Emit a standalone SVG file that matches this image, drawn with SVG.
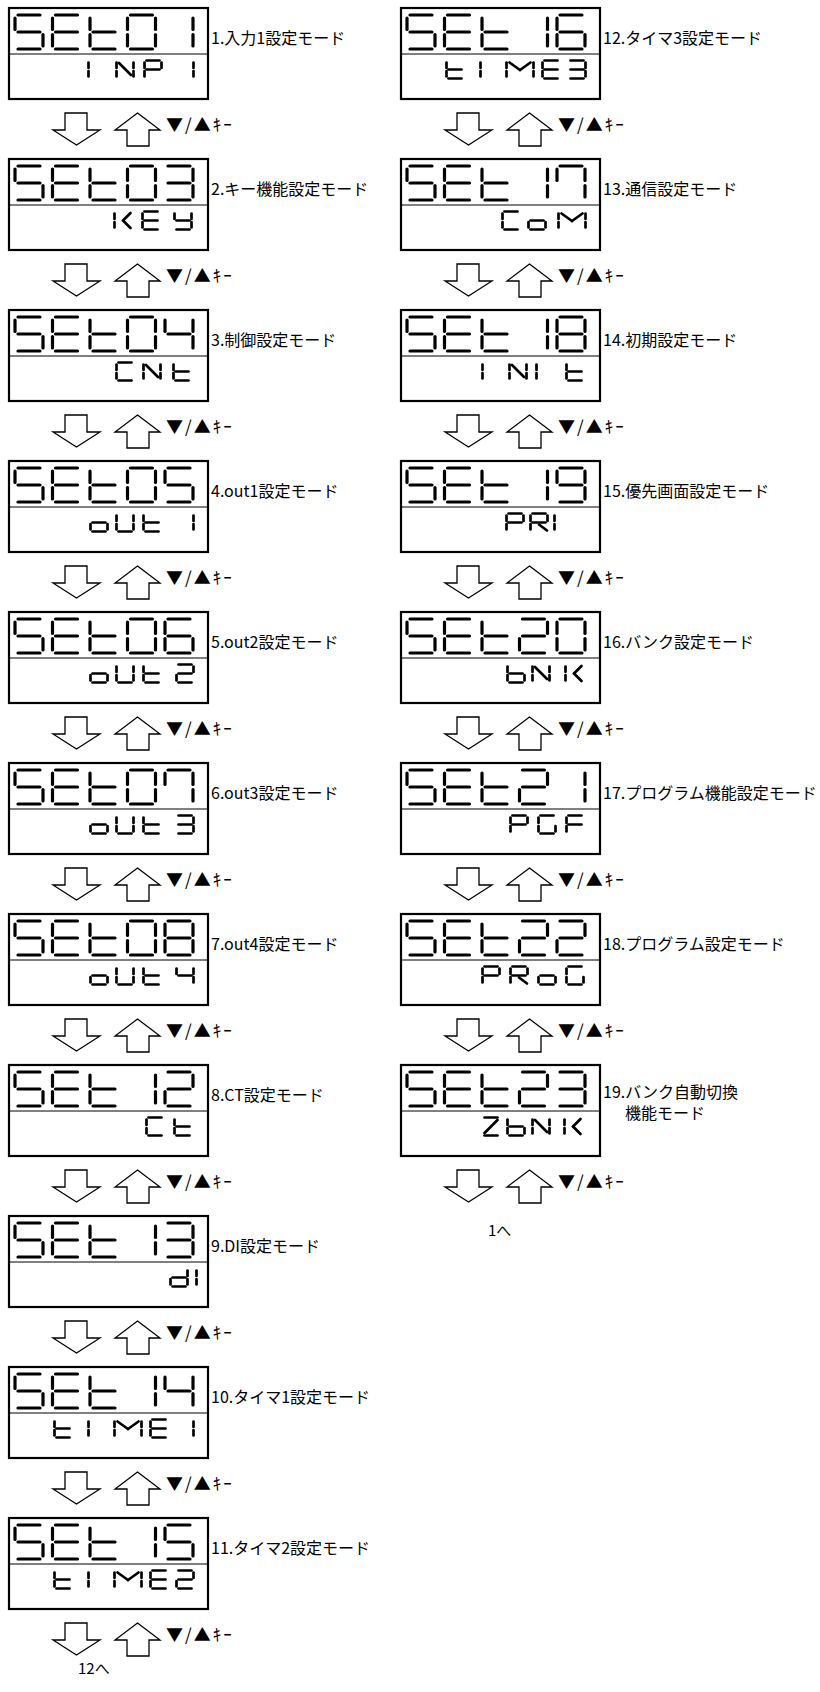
<svg xmlns="http://www.w3.org/2000/svg" width="820" height="1692" viewBox="0 0 820 1692">
<style>
.frame{fill:#fff;stroke:#000;stroke-width:2.2}
.div{stroke:#000;stroke-width:1}
.big{stroke:#000;stroke-width:3.2;stroke-linecap:round;fill:none}
.small{stroke:#000;stroke-width:2.7;stroke-linecap:round;fill:none}
.lbl{font-family:"Noto Sans CJK JP","Noto Sans CJK SC",sans-serif;font-size:16px;fill:#000}
.key{font-family:"Noto Sans CJK JP","Noto Sans CJK SC",sans-serif;font-size:17px;fill:#000;letter-spacing:2px}
.arr{fill:#fff;stroke:#000;stroke-width:1.3;stroke-linejoin:miter}
</style>
<defs>
<line id="BA" x1="5" y1="2" x2="27" y2="2"/>
<line id="BB" x1="30" y1="5" x2="30" y2="16.5"/>
<line id="BC" x1="30" y1="21.5" x2="30" y2="33"/>
<line id="BD" x1="5" y1="36" x2="27" y2="36"/>
<line id="BE" x1="2" y1="21.5" x2="2" y2="33"/>
<line id="BF" x1="2" y1="5" x2="2" y2="16.5"/>
<line id="BG" x1="5" y1="19" x2="27" y2="19"/>
<g id="Gs"><use href="#BA"/><use href="#BF"/><use href="#BG"/><use href="#BC"/><use href="#BD"/></g>
<g id="Ge"><use href="#BA"/><use href="#BF"/><use href="#BG"/><use href="#BE"/><use href="#BD"/></g>
<g id="Gt"><use href="#BF"/><use href="#BG"/><use href="#BE"/><use href="#BD"/></g>
<g id="G0"><use href="#BA"/><use href="#BB"/><use href="#BC"/><use href="#BD"/><use href="#BE"/><use href="#BF"/></g>
<g id="G1"><use href="#BB"/><use href="#BC"/></g>
<g id="G2"><use href="#BA"/><use href="#BB"/><use href="#BG"/><use href="#BE"/><use href="#BD"/></g>
<g id="G3"><use href="#BA"/><use href="#BB"/><use href="#BG"/><use href="#BC"/><use href="#BD"/></g>
<g id="G4"><use href="#BF"/><use href="#BG"/><use href="#BB"/><use href="#BC"/></g>
<g id="G5"><use href="#Gs"/></g>
<g id="G6"><use href="#BA"/><use href="#BF"/><use href="#BG"/><use href="#BE"/><use href="#BD"/><use href="#BC"/></g>
<g id="G7"><use href="#BA"/><use href="#BF"/><use href="#BB"/><use href="#BC"/></g>
<g id="G8"><use href="#BA"/><use href="#BB"/><use href="#BC"/><use href="#BD"/><use href="#BE"/><use href="#BF"/><use href="#BG"/></g>
<g id="G9"><use href="#BA"/><use href="#BB"/><use href="#BC"/><use href="#BD"/><use href="#BF"/><use href="#BG"/></g>
<g id="SEt" class="big"><use href="#Gs" x="4" y="5"/><use href="#Ge" x="41.5" y="5"/><use href="#Gt" x="79" y="5"/></g>
<line id="sa" x1="3.5" y1="1.5" x2="16.5" y2="1.5"/>
<line id="sb" x1="18.5" y1="3.5" x2="18.5" y2="9"/>
<line id="sc" x1="18.5" y1="12" x2="18.5" y2="17.5"/>
<line id="sd" x1="3.5" y1="19.5" x2="16.5" y2="19.5"/>
<line id="se" x1="1.5" y1="12" x2="1.5" y2="17.5"/>
<line id="sf" x1="1.5" y1="3.5" x2="1.5" y2="9"/>
<line id="sg" x1="3.5" y1="10.5" x2="16.5" y2="10.5"/>
<g id="cI"><use href="#sf"/><use href="#se"/></g>
<g id="c1"><use href="#sb"/><use href="#sc"/></g>
<g id="c2"><use href="#sa"/><use href="#sb"/><use href="#sg"/><use href="#se"/><use href="#sd"/></g>
<g id="c3"><use href="#sa"/><use href="#sb"/><use href="#sg"/><use href="#sc"/><use href="#sd"/></g>
<g id="c4"><use href="#sf"/><use href="#sg"/><use href="#sb"/><use href="#sc"/></g>
<g id="cN"><use href="#sf"/><use href="#se"/><use href="#sb"/><use href="#sc"/><line x1="4" y1="4" x2="16" y2="16"/></g>
<g id="cP"><use href="#sa"/><use href="#sb"/><use href="#sf"/><use href="#sg"/><use href="#se"/></g>
<g id="cK"><use href="#sf"/><use href="#se"/><line x1="17.5" y1="3" x2="10" y2="10.5"/><line x1="10" y1="10.5" x2="17.5" y2="18"/></g>
<g id="cE"><use href="#sa"/><use href="#sf"/><use href="#sg"/><use href="#se"/><use href="#sd"/></g>
<g id="cY"><use href="#sf"/><use href="#sb"/><use href="#sg"/><use href="#sc"/><use href="#sd"/></g>
<g id="cC"><use href="#sa"/><use href="#sf"/><use href="#se"/><use href="#sd"/></g>
<g id="ct"><use href="#sf"/><use href="#se"/><use href="#sg"/><use href="#sd"/></g>
<g id="co"><use href="#sg"/><use href="#se"/><use href="#sc"/><use href="#sd"/></g>
<g id="cU"><use href="#sf"/><use href="#se"/><use href="#sd"/><use href="#sc"/><use href="#sb"/></g>
<g id="cd"><use href="#sb"/><use href="#sc"/><use href="#sd"/><use href="#se"/><use href="#sg"/></g>
<g id="cb"><use href="#sf"/><use href="#se"/><use href="#sd"/><use href="#sc"/><use href="#sg"/></g>
<g id="cR"><use href="#sa"/><use href="#sb"/><use href="#sf"/><use href="#sg"/><use href="#se"/><line x1="10" y1="12.5" x2="18" y2="18.5"/></g>
<g id="cZ"><use href="#sa"/><use href="#sd"/><line x1="16.5" y1="4" x2="3.5" y2="17"/></g>
<g id="cG"><use href="#sa"/><use href="#sf"/><use href="#se"/><use href="#sd"/><use href="#sc"/></g>
<g id="cF"><use href="#sa"/><use href="#sf"/><use href="#sg"/><use href="#se"/></g>
<g id="cM"><line x1="1.5" y1="3.5" x2="1.5" y2="9"/><line x1="1.5" y1="12" x2="1.5" y2="17.5"/><line x1="28.5" y1="3.5" x2="28.5" y2="9"/><line x1="28.5" y1="12" x2="28.5" y2="17.5"/><line x1="4.5" y1="3.5" x2="15" y2="11"/><line x1="25.5" y1="3.5" x2="15" y2="11"/></g>
<g id="frame"><rect class="frame" x="0" y="0" width="199" height="91"/><line class="div" x1="0" y1="46" x2="199" y2="46"/><use href="#SEt"/></g>
<g id="arrowpair"><polygon class="arr" points="56,0 78,0 78,17 91,17 67.5,32 44,17 56,17"/><polygon class="arr" points="128.5,0 151,17 140,17 140,33 118,33 118,17 106,17"/></g>
</defs>

<g id="node-01" transform="translate(9,8)"><use href="#frame"/><g class="big"><use href="#G0" x="116.5" y="5"/><use href="#G1" x="154" y="5"/></g><g class="small" transform="translate(0,51)"><use href="#cI" x="78"/><use href="#cN" x="106"/><use href="#cP" x="134"/><use href="#c1" x="166"/></g><text class="lbl" x="202" y="36">1.入力1設定モード</text></g>
<g id="node-02" transform="translate(9,159)"><use href="#frame"/><g class="big"><use href="#G0" x="116.5" y="5"/><use href="#G3" x="154" y="5"/></g><g class="small" transform="translate(0,51)"><use href="#cK" x="104"/><use href="#cE" x="132"/><use href="#cY" x="164"/></g><text class="lbl" x="202" y="36">2.キー機能設定モード</text></g>
<g id="node-03" transform="translate(9,310)"><use href="#frame"/><g class="big"><use href="#G0" x="116.5" y="5"/><use href="#G4" x="154" y="5"/></g><g class="small" transform="translate(0,51)"><use href="#cC" x="106"/><use href="#cN" x="133"/><use href="#ct" x="163"/></g><text class="lbl" x="202" y="36">3.制御設定モード</text></g>
<g id="node-04" transform="translate(9,461)"><use href="#frame"/><g class="big"><use href="#G0" x="116.5" y="5"/><use href="#G5" x="154" y="5"/></g><g class="small" transform="translate(0,51)"><use href="#co" x="80"/><use href="#cU" x="106"/><use href="#ct" x="133"/><use href="#c1" x="166"/></g><text class="lbl" x="202" y="36">4.out1設定モード</text></g>
<g id="node-05" transform="translate(9,612)"><use href="#frame"/><g class="big"><use href="#G0" x="116.5" y="5"/><use href="#G6" x="154" y="5"/></g><g class="small" transform="translate(0,51)"><use href="#co" x="80"/><use href="#cU" x="106"/><use href="#ct" x="133"/><use href="#c2" x="166"/></g><text class="lbl" x="202" y="36">5.out2設定モード</text></g>
<g id="node-06" transform="translate(9,763)"><use href="#frame"/><g class="big"><use href="#G0" x="116.5" y="5"/><use href="#G7" x="154" y="5"/></g><g class="small" transform="translate(0,51)"><use href="#co" x="80"/><use href="#cU" x="106"/><use href="#ct" x="133"/><use href="#c3" x="166"/></g><text class="lbl" x="202" y="36">6.out3設定モード</text></g>
<g id="node-07" transform="translate(9,914)"><use href="#frame"/><g class="big"><use href="#G0" x="116.5" y="5"/><use href="#G8" x="154" y="5"/></g><g class="small" transform="translate(0,51)"><use href="#co" x="80"/><use href="#cU" x="106"/><use href="#ct" x="133"/><use href="#c4" x="166"/></g><text class="lbl" x="202" y="36">7.out4設定モード</text></g>
<g id="node-08" transform="translate(9,1065)"><use href="#frame"/><g class="big"><use href="#G1" x="116.5" y="5"/><use href="#G2" x="154" y="5"/></g><g class="small" transform="translate(0,51)"><use href="#cC" x="136"/><use href="#ct" x="164"/></g><text class="lbl" x="202" y="36">8.CT設定モード</text></g>
<g id="node-09" transform="translate(9,1216)"><use href="#frame"/><g class="big"><use href="#G1" x="116.5" y="5"/><use href="#G3" x="154" y="5"/></g><g class="small" transform="translate(0,51)"><use href="#cd" x="160"/><use href="#cI" x="186"/></g><text class="lbl" x="202" y="36">9.DI設定モード</text></g>
<g id="node-10" transform="translate(9,1367)"><use href="#frame"/><g class="big"><use href="#G1" x="116.5" y="5"/><use href="#G4" x="154" y="5"/></g><g class="small" transform="translate(0,51)"><use href="#ct" x="44"/><use href="#cI" x="78"/><use href="#cM" x="104"/><use href="#cE" x="140"/><use href="#c1" x="166"/></g><text class="lbl" x="202" y="36">10.タイマ1設定モード</text></g>
<g id="node-11" transform="translate(9,1518)"><use href="#frame"/><g class="big"><use href="#G1" x="116.5" y="5"/><use href="#G5" x="154" y="5"/></g><g class="small" transform="translate(0,51)"><use href="#ct" x="44"/><use href="#cI" x="78"/><use href="#cM" x="104"/><use href="#cE" x="140"/><use href="#c2" x="166"/></g><text class="lbl" x="202" y="36">11.タイマ2設定モード</text></g>

<g id="node-12" transform="translate(401,8)"><use href="#frame"/><g class="big"><use href="#G1" x="116.5" y="5"/><use href="#G6" x="154" y="5"/></g><g class="small" transform="translate(0,51)"><use href="#ct" x="44"/><use href="#cI" x="78"/><use href="#cM" x="104"/><use href="#cE" x="140"/><use href="#c3" x="166"/></g><text class="lbl" x="202" y="36">12.タイマ3設定モード</text></g>
<g id="node-13" transform="translate(401,159)"><use href="#frame"/><g class="big"><use href="#G1" x="116.5" y="5"/><use href="#G7" x="154" y="5"/></g><g class="small" transform="translate(0,51)"><use href="#cC" x="100"/><use href="#co" x="126"/><use href="#cM" x="156"/></g><text class="lbl" x="202" y="36">13.通信設定モード</text></g>
<g id="node-14" transform="translate(401,310)"><use href="#frame"/><g class="big"><use href="#G1" x="116.5" y="5"/><use href="#G8" x="154" y="5"/></g><g class="small" transform="translate(0,51)"><use href="#cI" x="80"/><use href="#cN" x="107"/><use href="#cI" x="134"/><use href="#ct" x="164"/></g><text class="lbl" x="202" y="36">14.初期設定モード</text></g>
<g id="node-15" transform="translate(401,461)"><use href="#frame"/><g class="big"><use href="#G1" x="116.5" y="5"/><use href="#G9" x="154" y="5"/></g><g class="small" transform="translate(0,51)"><use href="#cP" x="104"/><use href="#cR" x="128"/><use href="#cI" x="152"/></g><text class="lbl" x="202" y="36">15.優先画面設定モード</text></g>
<g id="node-16" transform="translate(401,612)"><use href="#frame"/><g class="big"><use href="#G2" x="116.5" y="5"/><use href="#G0" x="154" y="5"/></g><g class="small" transform="translate(0,51)"><use href="#cb" x="105"/><use href="#cN" x="130"/><use href="#cK" x="163"/></g><text class="lbl" x="202" y="36">16.バンク設定モード</text></g>
<g id="node-17" transform="translate(401,763)"><use href="#frame"/><g class="big"><use href="#G2" x="116.5" y="5"/><use href="#G1" x="154" y="5"/></g><g class="small" transform="translate(0,51)"><use href="#cP" x="108"/><use href="#cG" x="136"/><use href="#cF" x="164"/></g><text class="lbl" x="202" y="36">17.プログラム機能設定モード</text></g>
<g id="node-18" transform="translate(401,914)"><use href="#frame"/><g class="big"><use href="#G2" x="116.5" y="5"/><use href="#G2" x="154" y="5"/></g><g class="small" transform="translate(0,51)"><use href="#cP" x="80"/><use href="#cR" x="108"/><use href="#co" x="136"/><use href="#cG" x="164"/></g><text class="lbl" x="202" y="36">18.プログラム設定モード</text></g>
<g id="node-19" transform="translate(401,1065)"><use href="#frame"/><g class="big"><use href="#G2" x="116.5" y="5"/><use href="#G3" x="154" y="5"/></g><g class="small" transform="translate(0,51)"><use href="#cZ" x="80"/><use href="#cb" x="105"/><use href="#cN" x="130"/><use href="#cK" x="162"/></g><text class="lbl" x="202" y="33">19.バンク自動切換</text><text class="lbl" x="224" y="54">機能モード</text></g>

<g id="connectors">
<g transform="translate(9,113)"><use href="#arrowpair"/><text class="key" x="157" y="18">▼/▲ｷｰ</text></g>
<g transform="translate(9,264)"><use href="#arrowpair"/><text class="key" x="157" y="18">▼/▲ｷｰ</text></g>
<g transform="translate(9,415)"><use href="#arrowpair"/><text class="key" x="157" y="18">▼/▲ｷｰ</text></g>
<g transform="translate(9,566)"><use href="#arrowpair"/><text class="key" x="157" y="18">▼/▲ｷｰ</text></g>
<g transform="translate(9,717)"><use href="#arrowpair"/><text class="key" x="157" y="18">▼/▲ｷｰ</text></g>
<g transform="translate(9,868)"><use href="#arrowpair"/><text class="key" x="157" y="18">▼/▲ｷｰ</text></g>
<g transform="translate(9,1019)"><use href="#arrowpair"/><text class="key" x="157" y="18">▼/▲ｷｰ</text></g>
<g transform="translate(9,1170)"><use href="#arrowpair"/><text class="key" x="157" y="18">▼/▲ｷｰ</text></g>
<g transform="translate(9,1321)"><use href="#arrowpair"/><text class="key" x="157" y="18">▼/▲ｷｰ</text></g>
<g transform="translate(9,1472)"><use href="#arrowpair"/><text class="key" x="157" y="18">▼/▲ｷｰ</text></g>
<g transform="translate(9,1623)"><use href="#arrowpair"/><text class="key" x="157" y="18">▼/▲ｷｰ</text></g>
<g transform="translate(401,113)"><use href="#arrowpair"/><text class="key" x="157" y="18">▼/▲ｷｰ</text></g>
<g transform="translate(401,264)"><use href="#arrowpair"/><text class="key" x="157" y="18">▼/▲ｷｰ</text></g>
<g transform="translate(401,415)"><use href="#arrowpair"/><text class="key" x="157" y="18">▼/▲ｷｰ</text></g>
<g transform="translate(401,566)"><use href="#arrowpair"/><text class="key" x="157" y="18">▼/▲ｷｰ</text></g>
<g transform="translate(401,717)"><use href="#arrowpair"/><text class="key" x="157" y="18">▼/▲ｷｰ</text></g>
<g transform="translate(401,868)"><use href="#arrowpair"/><text class="key" x="157" y="18">▼/▲ｷｰ</text></g>
<g transform="translate(401,1019)"><use href="#arrowpair"/><text class="key" x="157" y="18">▼/▲ｷｰ</text></g>
<g transform="translate(401,1170)"><use href="#arrowpair"/><text class="key" x="157" y="18">▼/▲ｷｰ</text></g>
<text class="lbl" x="78" y="1674" style="font-size:15px">12へ</text>
<text class="lbl" x="488" y="1236" style="font-size:15px">1へ</text>
</g>
</svg>
